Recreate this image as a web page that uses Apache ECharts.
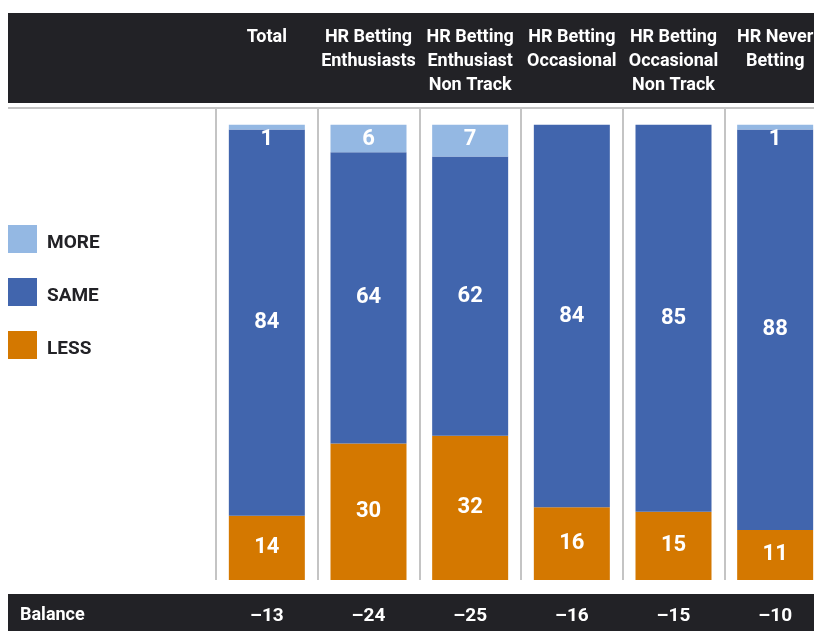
<!DOCTYPE html>
<html>
<head>
<meta charset="utf-8">
<style>
  html, body { margin: 0; padding: 0; background: #fff; }
  #chart { width: 814px; height: 631px; }
</style>
<script src="https://cdn.jsdelivr.net/npm/echarts@6/dist/echarts.min.js"></script>
</head>
<body>
<div id="chart"></div>
<script>
// segment headers (top row)
const segments = [
  'Total',
  'HR Betting\nEnthusiasts',
  'HR Betting\nEnthusiast\nNon Track',
  'HR Betting\nOccasional',
  'HR Betting\nOccasional\nNon Track',
  'HR Never\nBetting'
];
const moreVals = [1, 6, 7, 0, 0, 1];
const sameVals = [84, 64, 62, 84, 85, 88];
const lessVals = [14, 30, 32, 16, 15, 11];
const balance = ['–13', '–24', '–25', '–16', '–15', '–10'];

const FONT = 'Roboto, "DejaVu Sans Condensed", sans-serif';
const DARK = '#222226';
const GRID_LINE = '#C4C4C4';

let chart = echarts.init(document.getElementById('chart'));

// each column is drawn as a 100% stack (labels keep the rounded values)
const totals = segments.map((s, i) => moreVals[i] + sameVals[i] + lessVals[i]);
function share(list) {
  return list.map((v, i) => ({ value: v / totals[i] * 100, raw: v }));
}

function hideZero(p) {
  return p.data.raw ? p.data.raw : '';
}

const labelStyle = {
  show: true,
  position: 'inside',
  color: '#fff',
  fontFamily: FONT,
  fontWeight: 'bold',
  fontSize: 22,
  formatter: hideZero
};

const option = {
  animation: false,
  backgroundColor: '#fff',
  textStyle: { fontFamily: FONT },
  grid: {
    left: 216,
    top: 108,
    width: 610,
    height: 472,
    outerBoundsMode: 'none',
    containLabel: false
  },
  legend: {
    orient: 'vertical',
    left: 3,
    top: 220,
    icon: 'rect',
    itemWidth: 29,
    itemHeight: 28,
    itemGap: 25,
    selectedMode: false,
    data: ['MORE', 'SAME', 'LESS'],
    formatter: '{t|{name}}',
    textStyle: {
      color: DARK,
      fontFamily: FONT,
      fontWeight: 'bold',
      fontSize: 19,
      rich: {
        t: {
          color: DARK,
          fontFamily: FONT,
          fontWeight: 'bold',
          fontSize: 19,
          padding: [9, 0, 0, 5]
        }
      }
    }
  },
  graphic: [
    // header band
    { type: 'rect', z: -10, shape: { x: 8, y: 13, width: 806, height: 90 }, style: { fill: DARK } },
    // balance band
    { type: 'rect', z: -10, shape: { x: 8, y: 594, width: 806, height: 37 }, style: { fill: DARK } },
    { type: 'line', z: -5, shape: { x1: 8, y1: 108, x2: 814, y2: 108 }, style: { stroke: GRID_LINE, lineWidth: 2 } },
    {
      type: 'text', z: 10, left: 20, top: 606,
      style: { text: 'Balance', fill: '#fff', font: 'bold 18px ' + FONT }
    }
  ],
  xAxis: [
    {
      type: 'category',
      position: 'top',
      data: segments,
      z: 10,
      axisLine: { show: false },
      axisTick: { show: false },
      splitLine: { show: true, lineStyle: { color: GRID_LINE, width: 2 } },
      axisLabel: {
        interval: 0,
        color: '#fff',
        fontFamily: FONT,
        fontWeight: 'bold',
        fontSize: 18,
        lineHeight: 24,
        verticalAlign: 'top',
        margin: 83
      }
    },
    {
      type: 'category',
      position: 'bottom',
      data: balance,
      z: 10,
      axisLine: { show: false },
      axisTick: { show: false },
      splitLine: { show: false },
      axisLabel: {
        interval: 0,
        color: '#fff',
        fontFamily: FONT,
        fontWeight: 'bold',
        fontSize: 19,
        verticalAlign: 'middle',
        margin: 36
      }
    }
  ],
  yAxis: {
    type: 'value',
    min: 0,
    max: 103.7,
    show: false,
    splitLine: { show: false }
  },
  series: [
    {
      name: 'LESS',
      type: 'bar',
      stack: 'a',
      barWidth: 76,
      itemStyle: { color: '#D47800' },
      label: labelStyle,
      data: share(lessVals)
    },
    {
      name: 'SAME',
      type: 'bar',
      stack: 'a',
      barWidth: 76,
      itemStyle: { color: '#4165AD' },
      label: labelStyle,
      data: share(sameVals)
    },
    {
      name: 'MORE',
      type: 'bar',
      stack: 'a',
      barWidth: 76,
      itemStyle: { color: '#94B8E3' },
      label: Object.assign({}, labelStyle, { position: 'insideTop', distance: 4 }),
      data: share(moreVals)
    }
  ]
};
chart.setOption(option);
</script>
</body>
</html>
